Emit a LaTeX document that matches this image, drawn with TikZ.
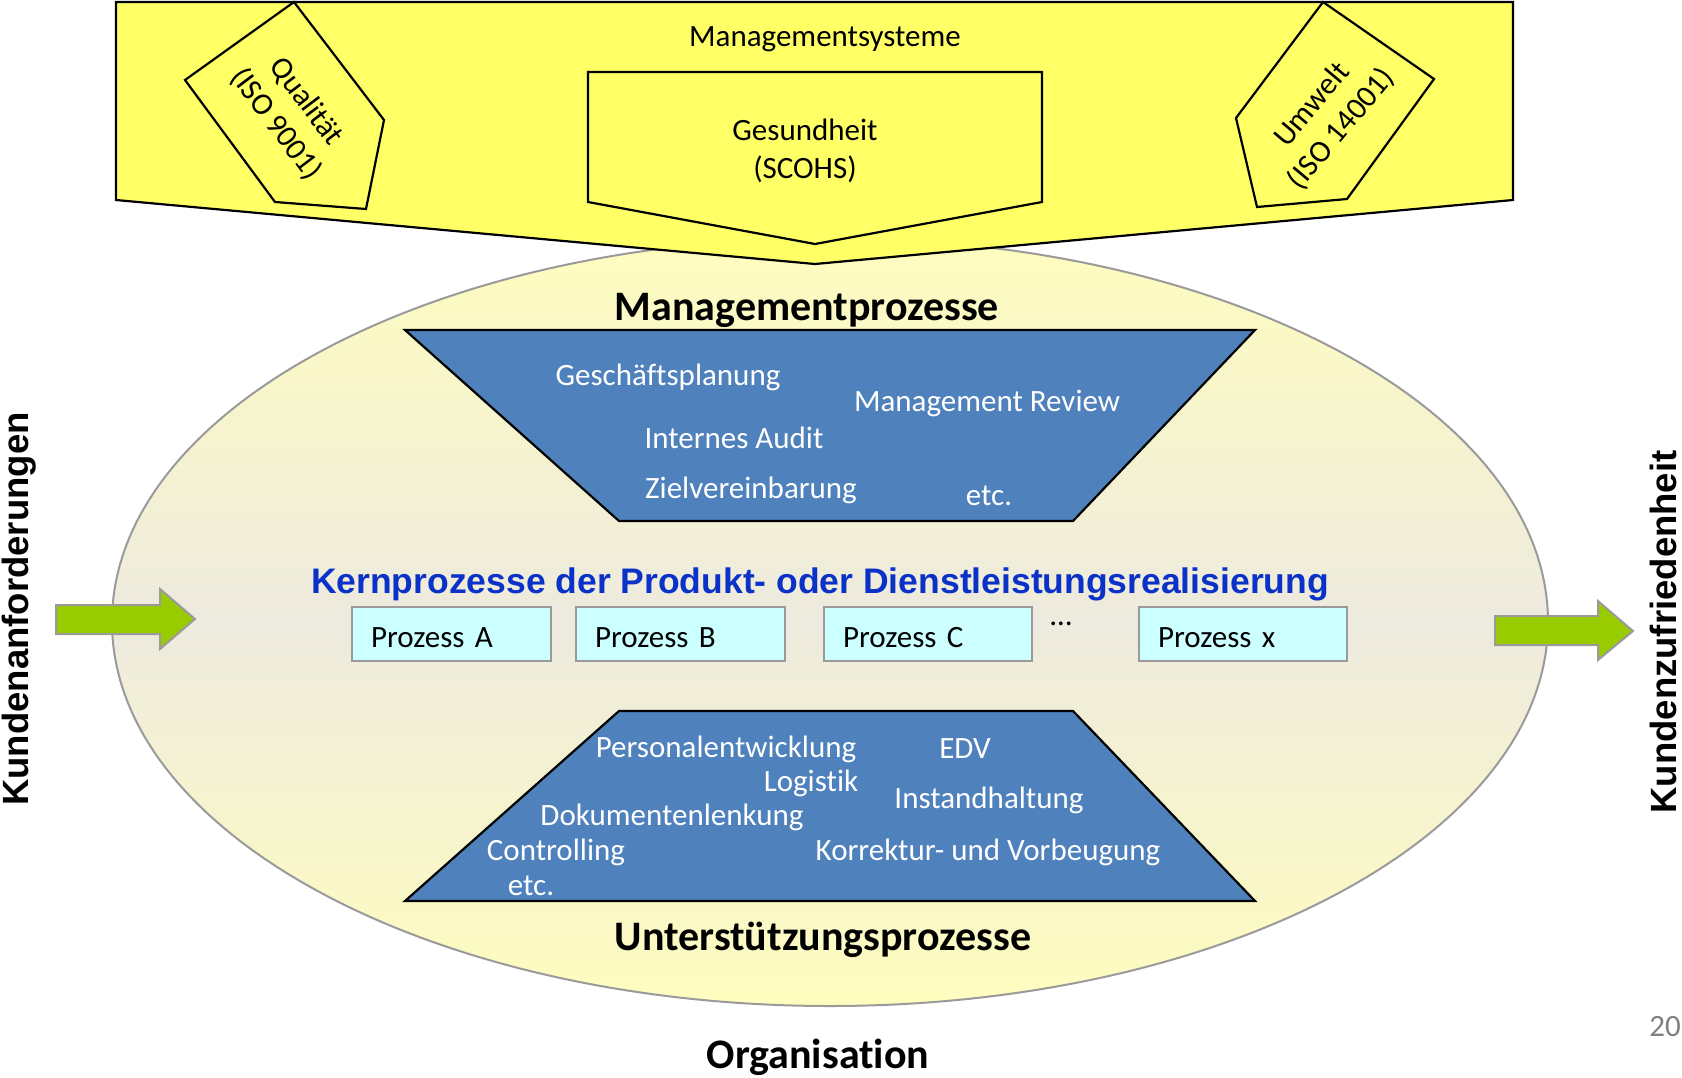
\documentclass[tikz,border=0pt]{standalone}
\usepackage{fontspec}
\setmainfont{Carlito}[RawFeature={-liga;-clig;-dlig;-calt;-rlig}]
\newfontfamily\arialfont{Liberation Sans}
\usepackage{xcolor}
\usepackage{tikz}
\definecolor{sysyellow}{HTML}{FFFF66}
\definecolor{paleyellow}{HTML}{FFFDBE}
\definecolor{orgbeige}{HTML}{EDEADF}
\definecolor{procblue}{HTML}{4F81BD}
\definecolor{kernblue}{HTML}{0A32C8}
\definecolor{cyanbox}{HTML}{CCFFFF}
\definecolor{arrowgreen}{HTML}{99CC00}
\definecolor{edgegrey}{HTML}{9A9A9A}

\begin{document}
\begin{tikzpicture}[x=1pt,y=-1pt,
  every node/.style={font=\fontsize{31}{38}\selectfont,inner sep=0pt},
  sysbox/.style={draw=black,line width=2.2pt,fill=sysyellow,line join=miter},
  procbox/.style={draw=black,line width=2.2pt,fill=procblue},
  item/.style={text=white},
  title/.style={font=\fontsize{42}{50}\selectfont\bfseries},
  side/.style={font=\fontsize{36.5}{44}\selectfont\arialfont\bfseries},
  prozess/.style={draw=edgegrey,line width=2pt,fill=cyanbox,minimum height=54pt,
    inner xsep=19pt,text height=26pt,text depth=0pt,align=left},
  greenarrow/.style={draw=edgegrey,line width=2pt,fill=arrowgreen}]
\useasboundingbox (0,0) rectangle (1682,1077);

% Organisation
\draw[draw=edgegrey,line width=2pt,top color=paleyellow,bottom color=paleyellow,
  middle color=orgbeige] (830,622) ellipse (718 and 384);

% Managementsysteme
\draw[sysbox] (116,2) -- (1513,2) -- (1513,200) -- (815,264) -- (116,200) -- cycle;
\draw[sysbox] (588,72) -- (1042,72) -- (1042,202) -- (815,244) -- (588,202) -- cycle;
\draw[sysbox] (294,2) -- (384,120) -- (366,209) -- (275,202) -- (185,80) -- cycle;
\draw[sysbox] (1323,2) -- (1434,79) -- (1347,199) -- (1257,207) -- (1236,118) -- cycle;
\node (sys) at (825,39) {Managementsysteme};
\node[align=center] (health) at (805,151) {Gesundheit\\(SCOHS)};
\node[align=center,rotate=-53] (quality) at (291,113) {Qualität\\(ISO 9001)};
\node[align=center,rotate=50] (env) at (1327,117) {Umwelt\\(ISO 14001)};

% Managementprozesse
\node[title] (mgmt) at (807,310) {Managementprozesse};
\draw[procbox] (405,330) -- (1255,330) -- (1073,521) -- (619,521) -- cycle;
\node[item] (plan) at (668,377) {Geschäftsplanung};
\node[item] (review) at (987,403) {Management Review};
\node[item] (audit) at (734,438) {Internes Audit};
\node[item] (goals) at (751,490) {Zielvereinbarung};
\node[item] (etcm) at (989,496) {etc.};

% Kernprozesse
\node[font=\fontsize{35.5}{42}\selectfont\arialfont\bfseries,text=kernblue] (core)
  at (820,584) {Kernprozesse der Produkt- oder Dienstleistungsrealisierung};
\node[prozess,text width=161pt] (pa) at (451.5,634) {Prozess A};
\node[prozess,text width=171pt] (pb) at (680.5,634) {Prozess B};
\node[prozess,text width=170pt] (pc) at (928,634) {Prozess C};
\node (dots) at (1061,624) {…};
\node[prozess,text width=170pt] (px) at (1243,634) {Prozess x};

% Unterstuetzungsprozesse
\draw[procbox] (619,711) -- (1073,711) -- (1255,901) -- (405,901) -- cycle;
\node[item] (staff) at (726,749) {Personalentwicklung};
\node[item] (edv) at (965,749) {EDV};
\node[item] (logistic) at (811,783) {Logistik};
\node[item] (maint) at (989,800) {Instandhaltung};
\node[item] (docs) at (672,817) {Dokumentenlenkung};
\node[item] (ctrl) at (556,852) {Controlling};
\node[item] (fix) at (988,852) {Korrektur- und Vorbeugung};
\node[item] (etcs) at (531,886) {etc.};
\node[title] (support) at (823,940) {Unterstützungsprozesse};
\node[title] (org) at (818,1057) {Organisation};

% Kunden
\draw[greenarrow] (56,605) -- (160,605) -- (160,589) -- (195,619) -- (160,649)
  -- (160,634) -- (56,634) -- cycle;
\draw[greenarrow] (1495,616) -- (1598,616) -- (1598,601) -- (1633,631) -- (1598,660)
  -- (1598,645) -- (1495,645) -- cycle;
\node[side,rotate=90] (req) at (19,609) {Kundenanforderungen};
\node[side,rotate=90] (sat) at (1663,632) {Kundenzufriedenheit};

\node[text=gray] (page) at (1665,1027) {20};
\end{tikzpicture}
\end{document}
